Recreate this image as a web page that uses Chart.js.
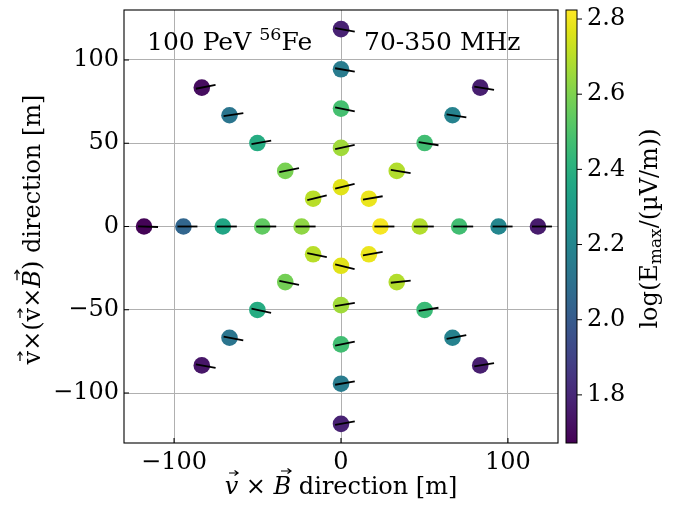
<!DOCTYPE html>
<html>
<head>
<meta charset="utf-8">
<script src="https://cdn.jsdelivr.net/npm/chart.js@4"></script>
<style>
  html, body { margin: 0; padding: 0; background: #fff; }
</style>
</head>
<body>
<canvas id="starChart" width="673" height="510"></canvas>
<script>
// antenna positions in the shower plane [m], arm by arm (E, NE, N, NW, W, SW, S, SE)
const posX = [
  23.6, 47.2, 70.8, 94.4, 118,
  16.7, 33.4, 50.1, 66.8, 83.4,
  0, 0, 0, 0, 0,
  -16.7, -33.4, -50.1, -66.8, -83.4,
  -23.6, -47.2, -70.8, -94.4, -118,
  -16.7, -33.4, -50.1, -66.8, -83.4,
  0, 0, 0, 0, 0,
  16.7, 33.4, 50.1, 66.8, 83.4
];
const posY = [
  0, 0, 0, 0, 0,
  16.7, 33.4, 50.1, 66.8, 83.4,
  23.6, 47.2, 70.8, 94.4, 118.5,
  16.7, 33.4, 50.1, 66.8, 83.4,
  0, 0, 0, 0, 0,
  -16.7, -33.4, -50.1, -66.8, -83.4,
  -23.6, -47.2, -70.8, -94.4, -118.5,
  -16.7, -33.4, -50.1, -66.8, -83.4
];
// log10(E_max / (uV/m))
const logEmax = [
  2.81, 2.69, 2.47, 2.20, 1.76,
  2.79, 2.69, 2.47, 2.18, 1.77,
  2.77, 2.66, 2.48, 2.15, 1.78,
  2.70, 2.59, 2.38, 2.12, 1.71,
  2.63, 2.54, 2.35, 2.05, 1.68,
  2.70, 2.58, 2.38, 2.12, 1.74,
  2.77, 2.66, 2.47, 2.15, 1.78,
  2.79, 2.69, 2.45, 2.18, 1.77
];
// polarisation angle w.r.t. the v x B axis [deg]
const polAngle = [
  0, 0, 0, 0, 0,
  10, -9, -9, -9, -9,
  14, 12, -11, -10, -10,
  14, 11, 10, 9, 11,
  0, 0, 0, 0, -2,
  -12, -11, -12, -11, -10,
  -14, 9.5, 11, 10, 10,
  10, 6, 9, 11, 9
];
const xTicks = [-100, 0, 100];
const yTicks = [-100, -50, 0, 50, 100];
const cbTicks = [1.8, 2.0, 2.2, 2.4, 2.6, 2.8];
const cbMin = 1.672, cbMax = 2.824;

const viridisLut = ['#440154', '#471365', '#482475', '#463480', '#414487', '#3b528b', '#355f8d',
  '#2f6c8e', '#2a788e', '#25848e', '#21918c', '#1e9c89', '#22a884', '#2fb47c', '#44bf70',
  '#5ec962', '#7ad151', '#9bd93c', '#bddf26', '#dfe318', '#fde725'];

function hexRgb(h) {
  return [parseInt(h.slice(1, 3), 16), parseInt(h.slice(3, 5), 16), parseInt(h.slice(5, 7), 16)];
}
function viridis(t) {
  t = Math.min(1, Math.max(0, t));
  const f = t * (viridisLut.length - 1);
  const i = Math.min(viridisLut.length - 2, Math.floor(f));
  const a = hexRgb(viridisLut[i]), b = hexRgb(viridisLut[i + 1]);
  const u = f - i;
  const c = a.map((v, k) => Math.round(v + (b[k] - v) * u));
  return 'rgb(' + c.join(',') + ')';
}
const minus = v => String(v).replace('-', '\u2212');

const serif = 'DejaVu Serif';
Chart.defaults.font.family = serif;
Chart.defaults.color = '#000';

// parts: {t, font, dy, arrow}; arrow = height above baseline for a vector arrow
function drawRich(c, parts, x, y, align) {
  let w = 0;
  parts.forEach(p => { c.font = p.font; p.w = c.measureText(p.t).width; w += p.w; });
  let cx = align === 'center' ? x - w / 2 : x;
  parts.forEach(p => {
    c.font = p.font;
    c.fillText(p.t, cx, y + (p.dy || 0));
    if (p.arrow) {
      const ay = y - p.arrow, x0 = cx + p.w * 0.25 + (p.skew || 0), x1 = x0 + p.alen;
      c.save();
      c.lineWidth = 1.2;
      c.beginPath();
      c.moveTo(x0, ay); c.lineTo(x1, ay);
      c.moveTo(x1 - 3.5, ay - 2.5); c.lineTo(x1, ay); c.lineTo(x1 - 3.5, ay + 2.5);
      c.stroke();
      c.restore();
    }
    cx += p.w;
  });
}

const polLines = {
  id: 'polLines',
  afterDatasetsDraw(chart) {
    const c = chart.ctx;
    const meta = chart.getDatasetMeta(0);
    c.save();
    c.strokeStyle = '#000';
    c.lineWidth = 1.8;
    meta.data.forEach((pt, i) => {
      const a = polAngle[i] * Math.PI / 180;
      const dx = Math.cos(a), dy = -Math.sin(a);
      c.beginPath();
      c.moveTo(pt.x - 6 * dx, pt.y - 6 * dy);
      c.lineTo(pt.x + 14 * dx, pt.y + 14 * dy);
      c.stroke();
    });
    c.restore();
  }
};

const frameAndText = {
  id: 'frameAndText',
  afterDraw(chart) {
    const c = chart.ctx;
    const ca = chart.chartArea;
    const sx = chart.scales.x, sy = chart.scales.y, scb = chart.scales.cb;
    c.save();
    // spines + inward ticks
    c.strokeStyle = '#000';
    c.lineWidth = 1.1;
    c.strokeRect(ca.left, ca.top, ca.right - ca.left, ca.bottom - ca.top);
    c.beginPath();
    xTicks.forEach(v => { const p = sx.getPixelForValue(v); c.moveTo(p, ca.bottom); c.lineTo(p, ca.bottom - 5); });
    yTicks.forEach(v => { const p = sy.getPixelForValue(v); c.moveTo(ca.left, p); c.lineTo(ca.left + 5, p); });
    c.stroke();

    // colour bar
    const bx = ca.right + 8, bw = 11;
    const g = c.createLinearGradient(0, scb.bottom, 0, scb.top);
    viridisLut.forEach((col, i) => g.addColorStop(i / (viridisLut.length - 1), col));
    c.fillStyle = g;
    c.fillRect(bx, scb.top, bw, scb.bottom - scb.top);
    c.lineWidth = 1;
    c.strokeRect(bx, scb.top, bw, scb.bottom - scb.top);
    c.beginPath();
    cbTicks.forEach(v => { const p = scb.getPixelForValue(v); c.moveTo(bx + bw, p); c.lineTo(bx + bw + 5, p); });
    c.stroke();

    // texts
    c.fillStyle = '#000';
    c.strokeStyle = '#000';
    c.textBaseline = 'alphabetic';
    const f = (s, it) => (it ? 'italic ' : '') + s + 'px "' + serif + '"';
    drawRich(c, [
      { t: '100 PeV ', font: f(25) },
      { t: '56', font: f(17.5), dy: -10 },
      { t: 'Fe', font: f(25) }
    ], ca.left + 23, 50, 'left');
    drawRich(c, [{ t: '70-350 MHz', font: f(25) }], ca.left + 240, 50, 'left');

    drawRich(c, [
      { t: 'v', font: f(24, true), arrow: 21, alen: 9, skew: 1 },
      { t: ' \u00D7 ', font: f(24) },
      { t: 'B', font: f(24, true), arrow: 23, alen: 10, skew: 3 },
      { t: ' direction [m]', font: f(24) }
    ], (ca.left + ca.right) / 2, 494, 'center');

    c.save();
    c.translate(40, (ca.top + ca.bottom) / 2 + 3);
    c.rotate(-Math.PI / 2);
    drawRich(c, [
      { t: 'v', font: f(24), arrow: 20, alen: 9 },
      { t: '\u00D7(', font: f(24) },
      { t: 'v', font: f(24), arrow: 20, alen: 9 },
      { t: '\u00D7', font: f(24) },
      { t: 'B', font: f(24, true), arrow: 23, alen: 10, skew: 3 },
      { t: ') direction [m]', font: f(24) }
    ], 0, 0, 'center');
    c.restore();

    c.save();
    c.translate(657, (ca.top + ca.bottom) / 2 + 2);
    c.rotate(-Math.PI / 2);
    drawRich(c, [
      { t: 'log(E', font: f(24) },
      { t: 'max', font: f(17), dy: 4 },
      { t: '/(\u00B5V/m))', font: f(24) }
    ], 0, 0, 'center');
    c.restore();
    c.restore();
  }
};

const noPadY = s => { s.paddingTop = 0; s.paddingBottom = 0; };

new Chart(document.getElementById('starChart'), {
  type: 'scatter',
  data: {
    datasets: [{
      data: posX.map((x, i) => ({ x: x, y: posY[i] })),
      pointBackgroundColor: logEmax.map(v => viridis((v - cbMin) / (cbMax - cbMin))),
      pointRadius: 8.3,
      pointHoverRadius: 8.3,
      pointBorderWidth: 0
    }]
  },
  options: {
    responsive: false,
    devicePixelRatio: 1,
    animation: false,
    events: [],
    layout: { padding: { top: 10, left: 0, right: 0, bottom: 0 } },
    plugins: { legend: { display: false }, tooltip: { enabled: false } },
    scales: {
      x: {
        type: 'linear', min: -130, max: 130,
        afterBuildTicks: s => { s.ticks = xTicks.map(v => ({ value: v })); },
        afterFit: s => { s.height = 67; s.paddingLeft = 0; s.paddingRight = 0; },
        grid: { color: '#b0b0b0', lineWidth: 1, drawTicks: false },
        border: { display: false },
        ticks: { autoSkip: false, maxRotation: 0, padding: 5, font: { size: 24 }, callback: v => minus(v) }
      },
      y: {
        type: 'linear', min: -130, max: 130,
        afterBuildTicks: s => { s.ticks = yTicks.map(v => ({ value: v })); },
        afterFit: s => { s.width = 124; noPadY(s); },
        grid: { color: '#b0b0b0', lineWidth: 1, drawTicks: false },
        border: { display: false },
        ticks: { autoSkip: false, padding: 5, font: { size: 24 }, callback: v => minus(v) }
      },
      cb: {
        axis: 'y', type: 'linear', position: 'right', min: cbMin, max: cbMax,
        afterBuildTicks: s => { s.ticks = cbTicks.map(v => ({ value: v })); },
        afterFit: s => { s.width = 115; noPadY(s); },
        grid: { display: false, drawTicks: false },
        border: { display: false },
        ticks: { autoSkip: false, padding: 29, font: { size: 24 }, callback: v => Number(v).toFixed(1) }
      }
    }
  },
  plugins: [polLines, frameAndText]
});
</script>
</body>
</html>
